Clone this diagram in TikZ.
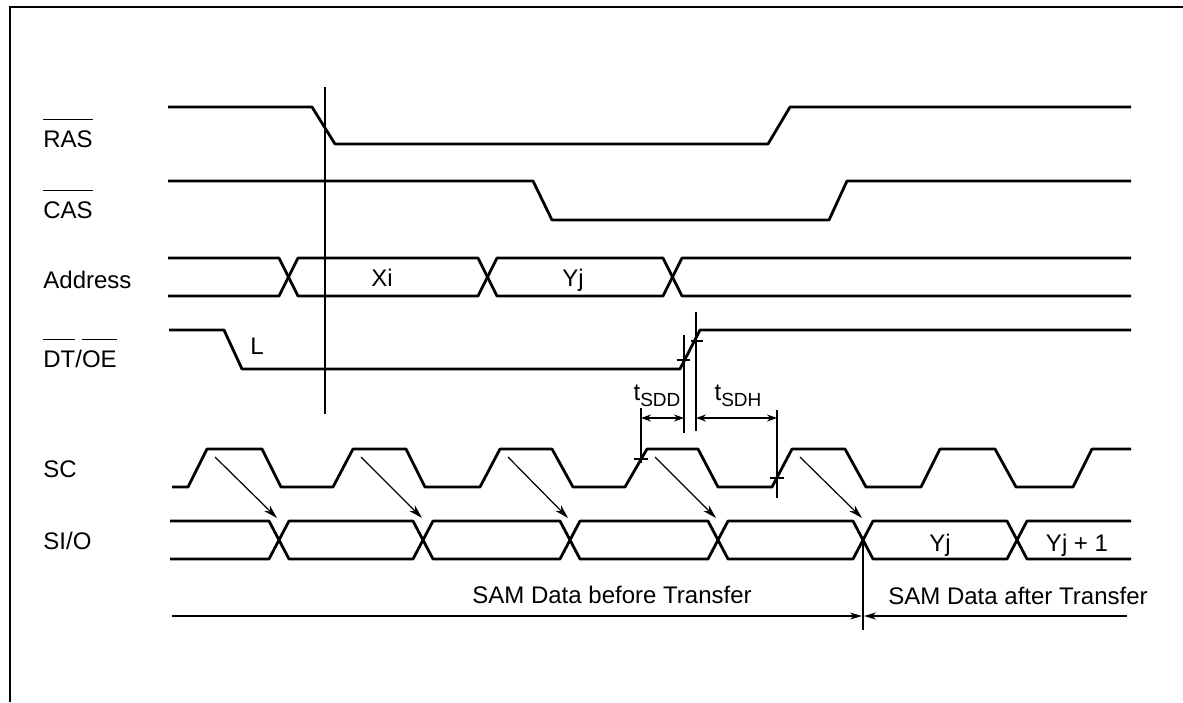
\documentclass[tikz,border=0pt]{standalone}
\usepackage{fontspec}
\setmainfont{Liberation Sans}
\usetikzlibrary{arrows.meta}

\newcommand\ovl[1]{\vbox{\hrule height 0.7pt\kern 5pt\hbox{#1}}}
\newcommand\tsub[2]{#1\raisebox{-3pt}{\fontsize{9.5}{10}\selectfont #2}}

\tikzset{
  wave/.style={line width=1.4pt, line join=round},
  marker/.style={line width=0.6pt},
  sig/.style={anchor=base west, inner sep=0pt, font=\fontsize{12}{14}\selectfont},
  lbl/.style={anchor=base, inner sep=0pt, font=\fontsize{12}{14}\selectfont},
  clkarrow/.style={line width=0.6pt, -{Stealth[length=7pt,width=4pt]}},
  dimline/.style={line width=0.6pt, {Stealth[length=5pt,width=3.5pt]}-{Stealth[length=5pt,width=3.5pt]}},
  spanline/.style={line width=0.6pt, -{Stealth[length=6pt,width=3.5pt]}},
}

\begin{document}
\begin{tikzpicture}[x=0.5pt,y=-0.5pt]
        \useasboundingbox (0,0) rectangle (1183,702);
        \draw[line width=1pt] (10,702) -- (10,7) -- (1183,7);

        % signal names
        \node[sig] (ras) at (43,147) {\ovl{RAS}};
        \node[sig] (cas) at (43,218) {\ovl{CAS}};
        \node[sig] (addr) at (43,288) {Address};
        \node[sig] (dtoe) at (43,367) {\ovl{DT}/\ovl{OE}};
        \node[sig] (sc) at (43,477) {SC};
        \node[sig] (sio) at (43,549) {SI/O};

        % waveforms
        \draw[wave] (168,107) -- (312,107) -- (335,144) -- (768,144) -- (790,107) -- (1131,107);
        \draw[wave] (168,181) -- (533,181) -- (552,220) -- (829,220) -- (847,181) -- (1131,181);
        \draw[wave] (168,258) -- (279,258) -- (298,296) -- (478,296) -- (497,258) -- (663,258) -- (682,296) -- (1131,296);
        \draw[wave] (168,296) -- (279,296) -- (298,258) -- (478,258) -- (497,296) -- (663,296) -- (682,258) -- (1131,258);
        \draw[wave] (169,330) -- (224,330) -- (242,369) -- (680,369) -- (700,330) -- (1131,330);
        \draw[wave] (172,487) -- (188,487) -- (207,449) -- (262,449) -- (281,487) -- (333,487) -- (353,449)
                -- (406,449) -- (425,487) -- (480,487) -- (500,449) -- (552,449) -- (573,487) -- (625,487)
                -- (647,449) -- (698,449) -- (718,487) -- (772,487) -- (792,449) -- (845,449) -- (866,487)
                -- (921,487) -- (940,449) -- (995,449) -- (1016,487) -- (1073,487) -- (1092,449) -- (1131,449);
        \draw[wave] (170,521) -- (269,521) -- (289,559) -- (413,559) -- (433,521) -- (560,521) -- (580,559)
                -- (708,559) -- (728,521) -- (853,521) -- (873,559) -- (1007,559) -- (1027,521) -- (1131,521);
        \draw[wave] (170,559) -- (269,559) -- (289,521) -- (413,521) -- (433,559) -- (560,559) -- (580,521)
                -- (708,521) -- (728,559) -- (853,559) -- (873,521) -- (1007,521) -- (1027,559) -- (1131,559);

        % bus contents
        \node[lbl] (xi) at (382,286) {Xi};
        \node[lbl] (yj) at (573,286) {Yj};
        \node[lbl] (low) at (257,354) {L};
        \node[lbl] (yjs) at (940,551) {Yj};
        \node[lbl] (yjn) at (1077,551) {Yj + 1};

        % RAS reference line
        \coordinate (rtop) at (325,87);
        \coordinate (rbot) at (325,414);
        \draw[marker] (rtop) -- (rbot);

        % DT/OE rising edge points
        \coordinate (dta) at (684,360);
        \coordinate (dtb) at (696,341);
        \draw[marker] (677,360) -- (690,360);
        \draw[marker] (691,341) -- (703,341);
        \draw[marker] (684,335) -- (684,433);
        \draw[marker] (696,312) -- (696,431);

        % SC edge points
        \coordinate (sca) at (641,459);
        \coordinate (scb) at (777,478);
        \draw[marker] (634,459) -- (648,459);
        \draw[marker] (770,478) -- (784,478);
        \draw[marker] (641,408) -- (641,463);
        \draw[marker] (777,410) -- (777,498);

        % setup / hold
        \coordinate (sdda) at (641,418);
        \coordinate (sddb) at (684,418);
        \coordinate (sdha) at (696,418);
        \coordinate (sdhb) at (777,418);
        \draw[dimline] (sdda) -- (sddb);
        \draw[dimline] (sdha) -- (sdhb);
        \node[lbl] (tsdd) at (657,400) {\tsub{t}{SDD}};
        \node[lbl] (tsdh) at (738,400) {\tsub{t}{SDH}};

        % SC to SI/O
        \coordinate (c1) at (215,457);
        \coordinate (c2) at (361,457);
        \coordinate (c3) at (508,457);
        \coordinate (c4) at (655,457);
        \coordinate (c5) at (800,457);
        \coordinate (d1) at (277,518);
        \coordinate (d2) at (422,518);
        \coordinate (d3) at (568,518);
        \coordinate (d4) at (716,518);
        \coordinate (d5) at (862,518);
        \draw[clkarrow] (c1) -- (d1);
        \draw[clkarrow] (c2) -- (d2);
        \draw[clkarrow] (c3) -- (d3);
        \draw[clkarrow] (c4) -- (d4);
        \draw[clkarrow] (c5) -- (d5);

        % before / after transfer
        \coordinate (stop) at (863,540);
        \coordinate (sbot) at (863,630);
        \coordinate (bl) at (172,616);
        \coordinate (br) at (1127,616);
        \draw[marker] (stop) -- (sbot);
        \draw[spanline] (bl) -- (862,616);
        \draw[spanline] (br) -- (864,616);
        \node[lbl] (before) at (612,603) {SAM Data before Transfer};
        \node[lbl] (after) at (1018,604) {SAM Data after Transfer};
\end{tikzpicture}
\end{document}
